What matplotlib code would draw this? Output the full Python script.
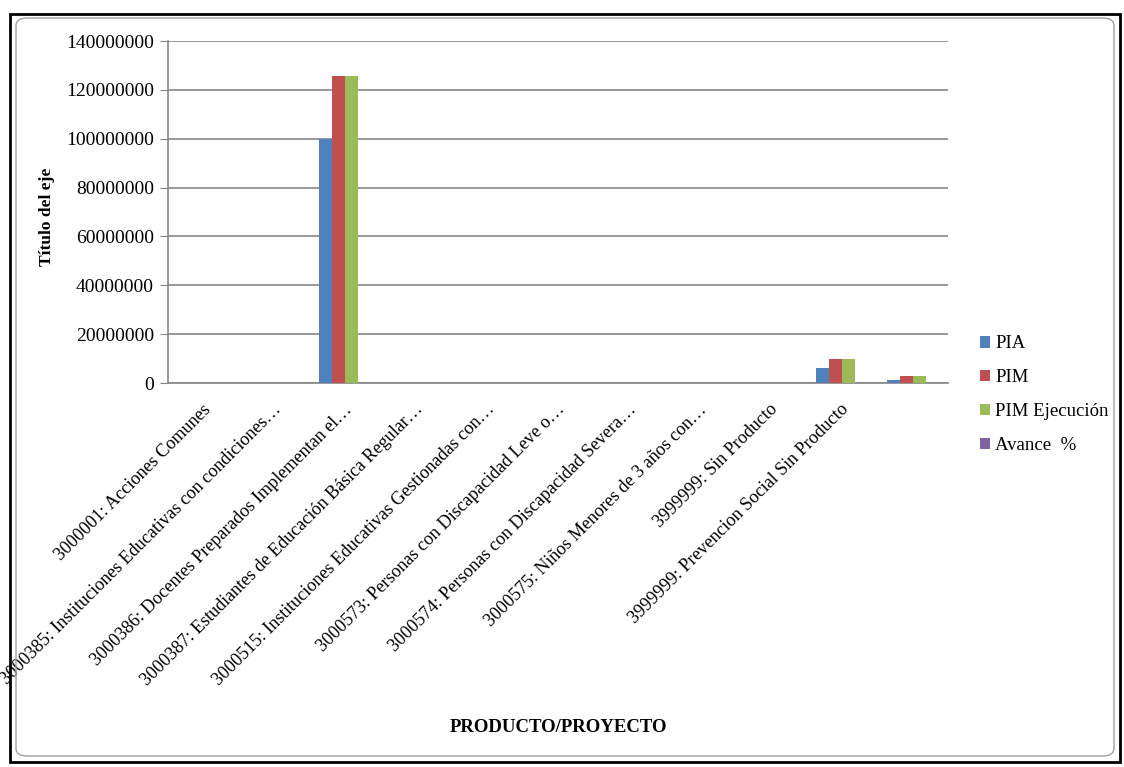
import numpy as np
import matplotlib
matplotlib.use("Agg")
import matplotlib.pyplot as plt
from matplotlib.patches import Rectangle, FancyBboxPatch
from matplotlib.ticker import FuncFormatter
from matplotlib.transforms import ScaledTranslation

# categorias (la ultima no tiene etiqueta visible en el original)
categories = [
    "3000001: Acciones Comunes",
    "3000385: Instituciones Educativas con condiciones…",
    "3000386: Docentes Preparados Implementan el…",
    "3000387: Estudiantes de Educación Básica Regular…",
    "3000515: Instituciones Educativas Gestionadas con…",
    "3000573: Personas con Discapacidad Leve o…",
    "3000574: Personas con Discapacidad Severa…",
    "3000575: Niños Menores de 3 años con…",
    "3999999: Sin Producto",
    "3999999: Prevencion Social Sin Producto",
    "",
]
pia = [0, 0, 100000000, 0, 0, 0, 0, 0, 0, 6100000, 1200000]
pim = [0, 0, 125500000, 0, 0, 0, 0, 0, 0, 9900000, 2900000]
pim_ejec = [0, 0, 125500000, 0, 0, 0, 0, 0, 0, 9900000, 2900000]
avance = [0, 0, 100, 0, 0, 0, 0, 0, 0, 100, 100]

series = [
    ("PIA", pia, "#4F81BD"),
    ("PIM", pim, "#C0504D"),
    ("PIM Ejecución", pim_ejec, "#9BBB59"),
    ("Avance  %", avance, "#8064A2"),
]
yticks = np.arange(0, 140000001, 20000000)

plt.rcParams["font.family"] = ["Liberation Serif", "DejaVu Serif"]

W, H = 1124, 767
fig = plt.figure(figsize=(W / 100, H / 100), dpi=100)
ax = fig.add_axes([168 / W, 1 - 383 / H, (948 - 168) / W, (383 - 41) / H])

x = np.arange(len(categories))
bw = 0.183
for i, (name, vals, color) in enumerate(series):
    ax.bar(x + (i - 1.5) * bw, vals, width=bw, color=color, label=name, zorder=3)

ax.set_xlim(-0.5, len(categories) - 0.5)
ax.set_ylim(0, 140000000)
ax.set_yticks(yticks)
ax.yaxis.set_major_formatter(FuncFormatter(lambda v, p: f"{int(v)}"))
ax.grid(axis="y", color="#868686", lw=1.2, zorder=0)
for s in ["top", "right"]:
    ax.spines[s].set_visible(False)
for s in ["left", "bottom"]:
    ax.spines[s].set_color("#868686")
    ax.spines[s].set_linewidth(1.2)
ax.tick_params(axis="y", length=6, color="#868686", labelsize=14, pad=4)
ax.tick_params(axis="x", length=0, pad=8)
ax.set_xticks(x)
ax.set_xticklabels(categories, rotation=45, ha="right", rotation_mode="anchor",
                   fontsize=13.1)
# desplazar etiquetas un poco hacia abajo como en el original
off = ScaledTranslation(-1 / 72, -5 / 72, fig.dpi_scale_trans)
for lbl in ax.get_xticklabels():
    lbl.set_transform(lbl.get_transform() + off)

fig.text(47 / W, 1 - 217 / H, "Título del eje", rotation=90, ha="center",
         va="center", fontsize=12.5, fontweight="bold")
fig.text(558 / W, 1 - 727 / H, "PRODUCTO/PROYECTO", ha="center", va="center",
         fontsize=13.5, fontweight="bold")

ax.legend(loc="upper left", bbox_to_anchor=(972 / W, 1 - 328 / H),
          bbox_transform=fig.transFigure, frameon=False, fontsize=13.5,
          handlelength=0.55, handleheight=0.55, handletextpad=0.3,
          labelspacing=0.9, borderaxespad=0)

# marco exterior
fig.patches.append(Rectangle((10 / W, 1 - 762 / H), (1120 - 10) / W, (762 - 14) / H,
                             transform=fig.transFigure, fill=False,
                             edgecolor="black", lw=2))
fig.patches.append(FancyBboxPatch((16 / W, 1 - 756 / H), (1114 - 16) / W, (756 - 18) / H,
                                  boxstyle="round,pad=0,rounding_size=0.01",
                                  transform=fig.transFigure, fill=False,
                                  edgecolor="#A0A0A0", lw=1))

fig.savefig("out.png", dpi=100)
